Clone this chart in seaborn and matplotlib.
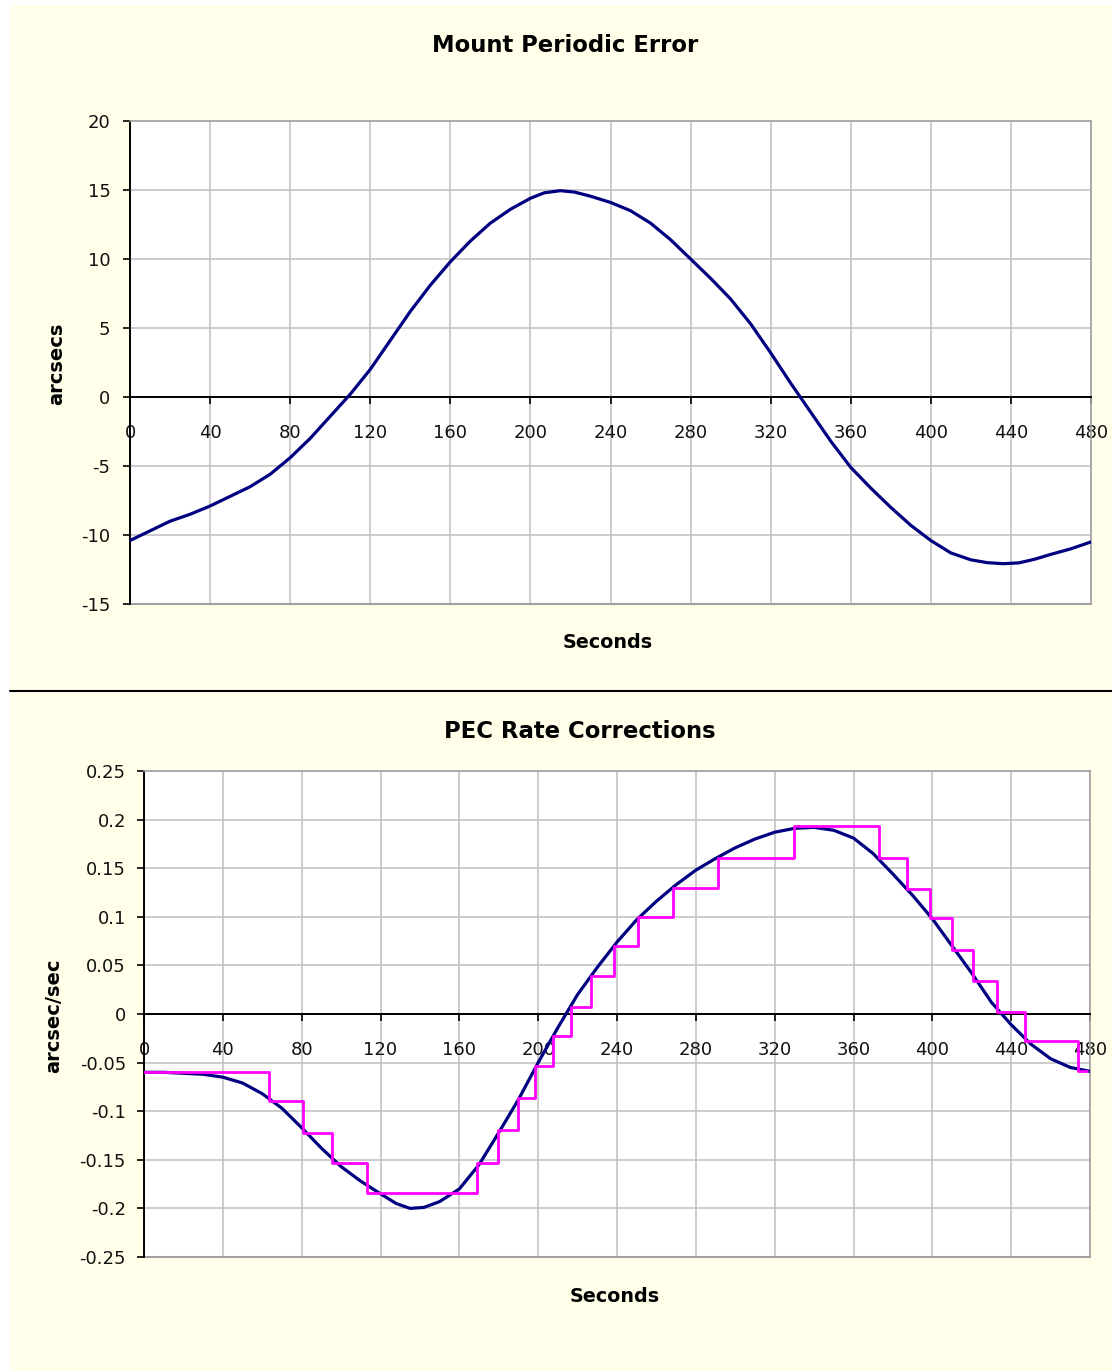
import numpy as np
import pandas as pd
import matplotlib
matplotlib.use("Agg")
import matplotlib.pyplot as plt
import seaborn as sns
from matplotlib.patches import Rectangle
from matplotlib.lines import Line2D
from matplotlib.ticker import FuncFormatter

sns.set_theme(style="white")
plt.rcParams["font.family"] = ["DejaVu Sans"]
plt.rcParams["axes.unicode_minus"] = False

# ---------------- data ----------------
pe_seconds = [0, 10, 20, 30, 40, 50, 60, 70, 80, 90, 100, 110, 120, 130, 140, 150,
              160, 170, 180, 190, 200, 207, 215, 222, 230, 240, 250, 260, 270, 280, 290,
              300, 310, 320, 330, 340, 350, 360, 370, 380, 390, 400, 410, 420, 428, 436,
              444, 452, 460, 470, 480]
pe_arcsecs = [-10.4, -9.7, -9.0, -8.5, -7.9, -7.2, -6.5, -5.6, -4.4, -3.0, -1.4, 0.2,
              2.0, 4.1, 6.2, 8.1, 9.8, 11.3, 12.6, 13.6, 14.4, 14.8, 14.95, 14.85, 14.55,
              14.1, 13.5, 12.6, 11.4, 10.0, 8.6, 7.1, 5.3, 3.2, 1.0, -1.1, -3.2, -5.1,
              -6.6, -8.0, -9.3, -10.4, -11.3, -11.8, -12.0, -12.08, -12.02, -11.75,
              -11.4, -11.0, -10.5]

rate_seconds = [0, 10, 20, 30, 40, 50, 60, 70, 80, 90, 100, 110, 120, 128, 135, 142,
                150, 160, 170, 180, 190, 200, 210, 220, 230, 240, 250, 260, 270, 280,
                290, 300, 310, 320, 330, 340, 350, 360, 370, 380, 390, 400, 410, 420,
                430, 440, 450, 460, 470, 480]
rate_values = [-0.060, -0.060, -0.061, -0.062, -0.065, -0.071, -0.082, -0.097, -0.117,
               -0.138, -0.157, -0.172, -0.185, -0.195, -0.200, -0.199, -0.193, -0.180,
               -0.155, -0.122, -0.088, -0.050, -0.014, 0.020, 0.048, 0.074, 0.097, 0.116,
               0.133, 0.148, 0.160, 0.171, 0.180, 0.187, 0.191, 0.192, 0.189, 0.181,
               0.165, 0.144, 0.122, 0.098, 0.070, 0.042, 0.012, -0.011, -0.031, -0.046,
               -0.055, -0.059]

pec_step_seconds = [0, 63.4, 80.8, 95.6, 113.3, 168.8, 179.8, 189.6, 198.4, 207.7, 216.5,
                    227.0, 238.5, 250.8, 268.2, 291.4, 329.8, 372.9, 386.9, 398.8, 409.8,
                    420.8, 432.6, 447.0, 474.0, 478.3]
pec_step_values = [-0.060, -0.090, -0.122, -0.153, -0.184, -0.153, -0.119, -0.086, -0.054,
                   -0.023, 0.007, 0.039, 0.070, 0.100, 0.130, 0.161, 0.193, 0.161, 0.129,
                   0.099, 0.066, 0.034, 0.002, -0.028, -0.059, -0.059]

x_ticks = [0, 40, 80, 120, 160, 200, 240, 280, 320, 360, 400, 440, 480]
pe_yticks = [-15, -10, -5, 0, 5, 10, 15, 20]
rate_yticks = [-0.25, -0.2, -0.15, -0.1, -0.05, 0, 0.05, 0.1, 0.15, 0.2, 0.25]

top_title = "Mount Periodic Error"
bottom_title = "PEC Rate Corrections"
x_label = "Seconds"
top_ylabel = "arcsecs"
bottom_ylabel = "arcsec/sec"

pe_df = pd.DataFrame({"Seconds": pe_seconds, "arcsecs": pe_arcsecs})
rate_df = pd.DataFrame({"Seconds": rate_seconds, "rate": rate_values})
step_df = pd.DataFrame({"Seconds": pec_step_seconds, "rate": pec_step_values})

# ---------------- figure ----------------
W, H, DPI = 1112, 1371, 100
fig = plt.figure(figsize=(W / DPI, H / DPI), dpi=DPI, facecolor="white")


def fx(x):
    return x / W


def fy(y):
    return 1 - y / H


BG = "#FFFFEA"
fig.patches.append(Rectangle((fx(10), fy(690)), 1 - fx(10), 685 / H,
                             transform=fig.transFigure, facecolor=BG,
                             edgecolor="none", zorder=-5))
fig.patches.append(Rectangle((fx(10), 0), 1 - fx(10), fy(692),
                             transform=fig.transFigure, facecolor=BG,
                             edgecolor="none", zorder=-5))
fig.add_artist(Line2D([fx(10), 1], [fy(691), fy(691)], transform=fig.transFigure,
                      color="black", lw=1.5, zorder=-4))


def make_axes(left, top, right, bottom):
    return fig.add_axes([fx(left), fy(bottom), (right - left) / W, (bottom - top) / H])


ax1 = make_axes(130, 121, 1091, 604)
ax2 = make_axes(144, 771, 1090, 1257)


def style(ax, ylim, yticks, ypad):
    ax.set_facecolor("white")
    ax.set_xlim(0, 480)
    ax.set_ylim(*ylim)
    ax.set_xticks(x_ticks)
    ax.set_yticks(yticks)
    ax.yaxis.set_major_formatter(FuncFormatter(lambda v, p: f"{v:g}"))
    ax.grid(True, color="#C0C0C0", lw=1.1)
    ax.set_axisbelow(True)
    for s in ["top", "right"]:
        ax.spines[s].set_visible(True)
        ax.spines[s].set_color("#A0A0A0")
        ax.spines[s].set_linewidth(1.2)
    ax.spines["left"].set_color("black")
    ax.spines["left"].set_linewidth(1.4)
    ax.spines["bottom"].set_position(("data", 0))
    ax.spines["bottom"].set_color("black")
    ax.spines["bottom"].set_linewidth(1.4)
    ax.axhline(ylim[0], color="#A0A0A0", lw=1.5, clip_on=False, zorder=2.4)
    ax.tick_params(axis="x", which="both", direction="out", bottom=True, length=5,
                   width=1.2, color="black", pad=14.5, labelsize=13, labelcolor="#111111")
    ax.tick_params(axis="y", which="both", direction="out", left=True, length=5,
                   width=1.2, color="black", pad=ypad, labelsize=13, labelcolor="#111111")
    ax.set_xlabel("")
    ax.set_ylabel("")


sns.lineplot(data=pe_df, x="Seconds", y="arcsecs", ax=ax1, color="#000080", lw=2.3,
             legend=False, zorder=3, solid_joinstyle="round")
style(ax1, (-15, 20), pe_yticks, 9)

sns.lineplot(data=rate_df, x="Seconds", y="rate", ax=ax2, color="#000080", lw=2.3,
             legend=False, zorder=3, solid_joinstyle="round")
sns.lineplot(data=step_df, x="Seconds", y="rate", ax=ax2, color="#FF00FF", lw=2.0,
             drawstyle="steps-post", legend=False, zorder=4)
style(ax2, (-0.25, 0.25), rate_yticks, 8)

# ---------------- texts ----------------
fig.text(fx(565), fy(46), top_title, ha="center", va="center", fontsize=16.4,
         fontweight="bold", color="black")
fig.text(fx(608), fy(643), x_label, ha="center", va="center", fontsize=13.8,
         fontweight="bold", color="black")
fig.text(fx(57), fy(364), top_ylabel, ha="center", va="center", fontsize=14,
         fontweight="bold", rotation=90, color="black")

fig.text(fx(580), fy(731), bottom_title, ha="center", va="center", fontsize=16.4,
         fontweight="bold", color="black")
fig.text(fx(615), fy(1296), x_label, ha="center", va="center", fontsize=13.8,
         fontweight="bold", color="black")
fig.text(fx(54), fy(1016), bottom_ylabel, ha="center", va="center", fontsize=14,
         fontweight="bold", rotation=90, color="black")

fig.savefig("out.png", dpi=DPI, facecolor="white")
